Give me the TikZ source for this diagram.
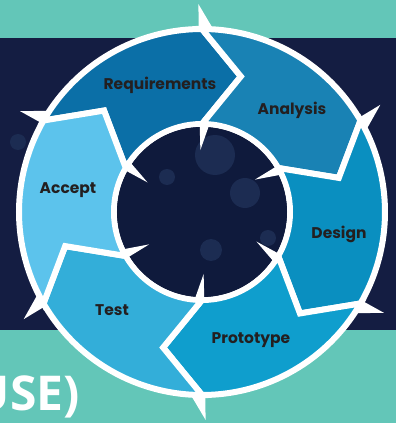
\documentclass[tikz,border=0pt]{standalone}
\usepackage{fontspec}
\newfontfamily\poppins{Poppins}
\newfontfamily\opensans{Open Sans}
\definecolor{tealband}{HTML}{63C6B8}
\definecolor{navy}{HTML}{141D42}
\definecolor{core}{HTML}{0F1A3C}
\definecolor{bubble}{HTML}{1C2C52}
\definecolor{colReq}{HTML}{0B6FA7}
\definecolor{colAna}{HTML}{1982B4}
\definecolor{colDes}{HTML}{0A8FC0}
\definecolor{colPro}{HTML}{0F9ECD}
\definecolor{colTst}{HTML}{33AED9}
\definecolor{colAcc}{HTML}{5CC3EC}
\definecolor{ink}{HTML}{231F20}

\begin{document}
\begin{tikzpicture}[x=1pt,y=1pt,
	seg/.style={draw=white,line width=6pt,line join=miter},
	spike/.style={fill=white},
	lab/.style={text=ink,font=\poppins\bfseries\fontsize{15.5}{18}\selectfont}]
	\useasboundingbox (-202,-211) rectangle (194,212);
	\fill[navy] (-202,-118) rectangle (194,174);
	\fill[tealband] (-202,174) rectangle (194,212);
	\fill[tealband] (-202,-211) rectangle (194,-118);
	\fill[bubble] (-184,70) circle (8);
	
	\foreach \ang/\col in {150/colReq,90/colAna,30/colDes,-30/colPro,-90/colTst,-150/colAcc}{
		\pgfmathsetmacro\hd{\ang-60}
		\filldraw[seg,fill=\col] (\ang:183) arc[start angle=\ang,end angle=\hd,radius=183pt] -- ({\hd-16}:141) -- (\hd:88) arc[start angle=\hd,end angle=\ang,radius=88pt] -- ({\ang-16}:141) -- cycle;
	}
	
	\fill[core] (0,0) circle (85);
	\fill[bubble] (13,57) circle (20);
	\fill[bubble] (43,19) circle (15);
	\fill[bubble] (-35,35) circle (8);
	\fill[bubble] (9,-38) circle (11);
	\fill[bubble] (66,-26) circle (8);
	
	\foreach \ang in {90,30,-30,-90,-150,150}{
		\fill[spike] ({\ang+1}:208) -- ({\ang+1}:181) -- ({\ang-4}:181) -- cycle;
		\fill[spike] ({\ang+1.5}:62) -- ({\ang+1.5}:89) -- ({\ang-5}:89) -- cycle;
	}
	
	\node[lab] (req) at (-42,127) {Requirements};
	\node[lab] (ana) at (90,102) {Analysis};
	\node[lab] (des) at (137,-22) {Design};
	\node[lab] (pro) at (49,-128) {Prototype};
	\node[lab] (tst) at (-90,-98) {Test};
	\node[lab] (acc) at (-134,22) {Accept};
	
	\node[text=white,font=\opensans\bfseries\fontsize{48}{52}\selectfont,anchor=base east,inner xsep=0pt] (title) at (-122,-198) {USE)};
\end{tikzpicture}
\end{document}
